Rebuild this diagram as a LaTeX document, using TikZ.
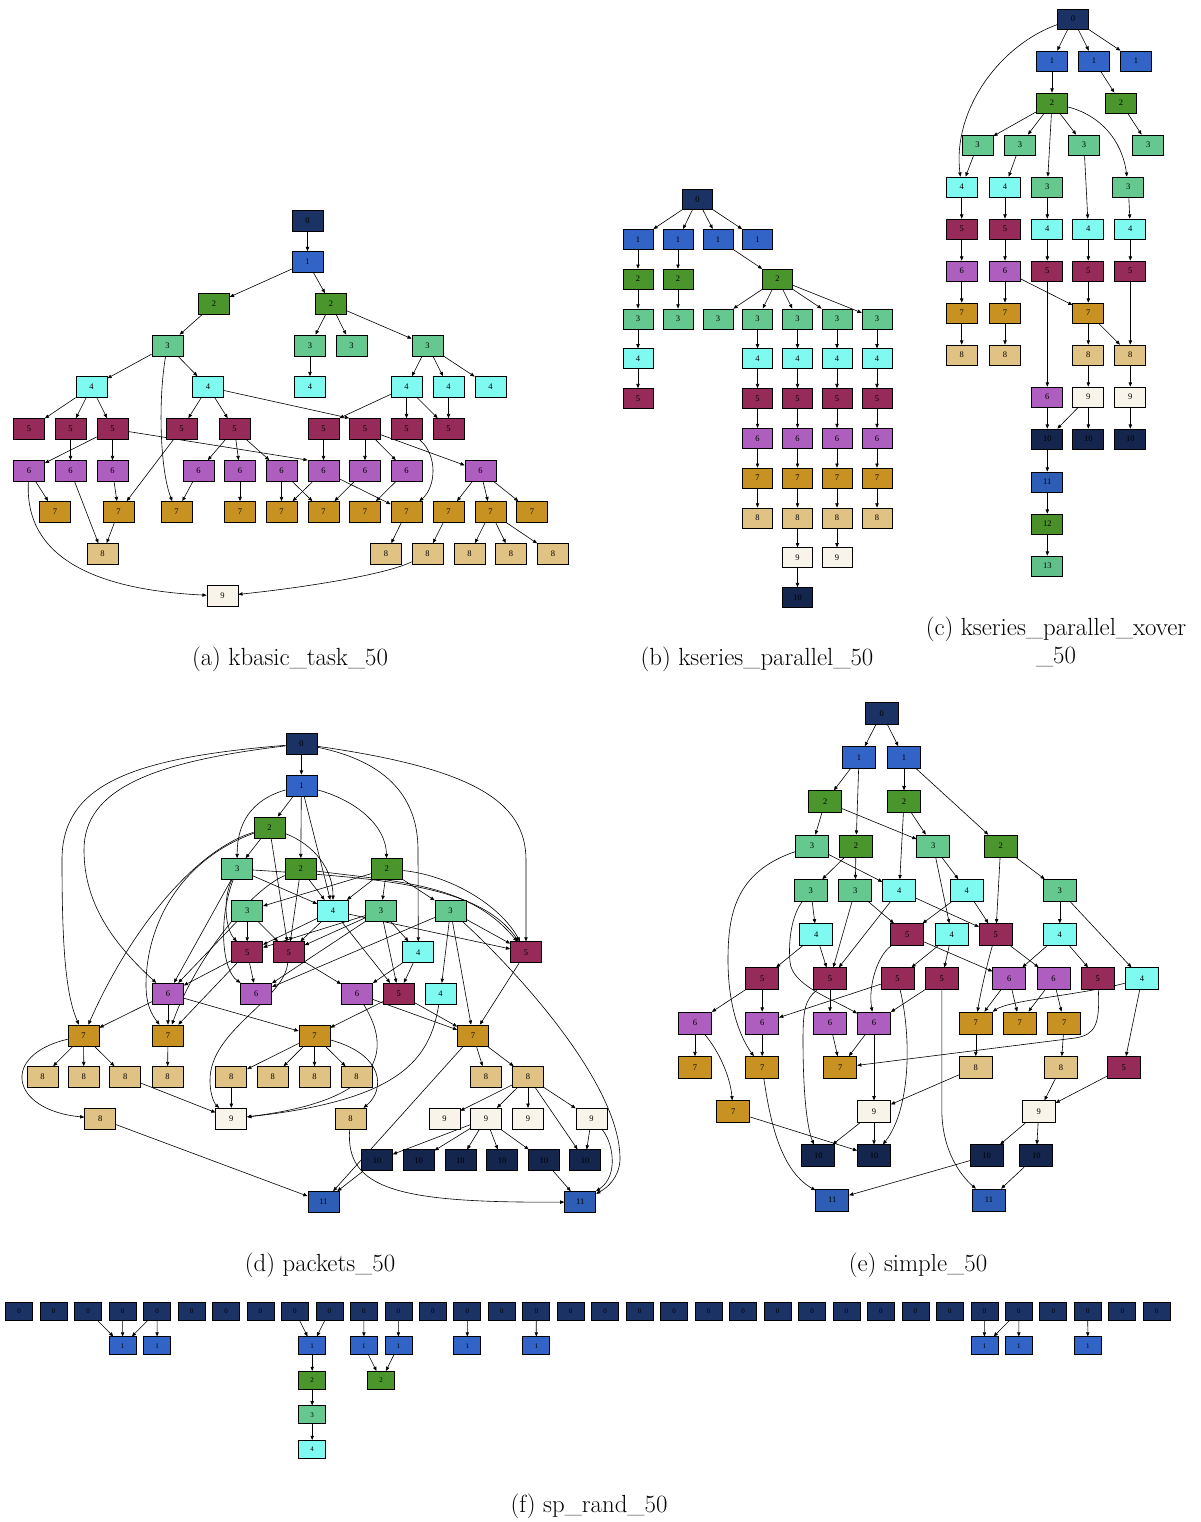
\documentclass[tikz,border=0pt]{standalone}
\usepackage{fontspec}
\newfontfamily\nodefont{Liberation Serif}
\usetikzlibrary{arrows.meta}
\pgfdeclarelayer{bg}
\pgfsetlayers{bg,main}
\definecolor{k0}{RGB}{27,50,100}
\definecolor{k1}{RGB}{50,100,200}
\definecolor{k2}{RGB}{74,150,44}
\definecolor{k3}{RGB}{100,200,143}
\definecolor{k4}{RGB}{127,250,240}
\definecolor{k5}{RGB}{150,42,88}
\definecolor{k6}{RGB}{174,94,190}
\definecolor{k7}{RGB}{200,146,34}
\definecolor{k8}{RGB}{224,194,132}
\definecolor{k9}{RGB}{248,244,234}
\definecolor{k10}{RGB}{20,38,78}
\definecolor{k11}{RGB}{46,93,182}
\definecolor{k12}{RGB}{74,144,40}
\definecolor{k13}{RGB}{96,192,138}
\tikzset{
 box/.style={draw=black, line width=0.7pt, inner sep=0pt, font=\nodefont\fontsize{8.5}{9}\selectfont},
 sa/.style={box, minimum width=31pt, minimum height=21pt},
 sb/.style={box, minimum width=30pt, minimum height=20pt},
 sc/.style={box, minimum width=31pt, minimum height=20pt},
 sd/.style={box, minimum width=31pt, minimum height=21pt},
 se/.style={box, minimum width=33pt, minimum height=22pt},
 sf/.style={box, minimum width=27pt, minimum height=18pt, font=\nodefont\fontsize{7}{8}\selectfont},
 c0/.style={fill=k0}, c1/.style={fill=k1}, c2/.style={fill=k2}, c3/.style={fill=k3},
 c4/.style={fill=k4}, c5/.style={fill=k5}, c6/.style={fill=k6}, c7/.style={fill=k7},
 c8/.style={fill=k8}, c9/.style={fill=k9}, c10/.style={fill=k10}, c11/.style={fill=k11},
 c12/.style={fill=k12}, c13/.style={fill=k13},
 arr/.style={-{Triangle[length=4.2pt,width=3.4pt]}, line width=0.6pt, black},
 captxt/.style={font=\fontsize{24.8}{29}\selectfont, inner sep=0pt}
}
\newcommand\mynode[5]{\node[#1,c#5] (#2) at (#3,#4) {#5};}
\begin{document}
\begin{tikzpicture}[x=1pt,y=-1pt]
\useasboundingbox (0,0) rectangle (1201,1522);
%% ---------------- (a) ----------------
\mynode{sa}{a0}{307.5}{220.5}{0}
\mynode{sa}{a1}{307.5}{262}{1}
\mynode{sa}{a2a}{214}{304}{2}
\mynode{sa}{a2b}{331}{304}{2}
\foreach \n/\x in {a3a/167.5,a3b/310,a3c/351.5,a3d/427.5} {\mynode{sa}{\n}{\x}{345.5}{3}}
\foreach \n/\x in {a4a/91.5,a4b/208,a4c/310,a4d/406.5,a4e/448.5,a4f/490.5} {\mynode{sa}{\n}{\x}{387}{4}}
\foreach \n/\x in {a5a/29,a5b/70.5,a5c/112.5,a5d/181.5,a5e/234.5,a5f/323.5,a5g/365,a5h/406.5,a5i/448.5} {\mynode{sa}{\n}{\x}{429}{5}}
\foreach \n/\x in {a6a/29,a6b/70.5,a6c/112.5,a6d/198.5,a6e/240,a6f/281.5,a6g/323.5,a6h/365,a6i/406.5,a6j/480.5} {\mynode{sa}{\n}{\x}{471}{6}}
\foreach \n/\x in {a7a/55,a7b/118.5,a7c/176.5,a7d/240,a7e/281.5,a7f/323.5,a7g/365,a7h/406.5,a7i/448.5,a7j/490.5,a7k/532} {\mynode{sa}{\n}{\x}{512}{7}}
\foreach \n/\x in {a8a/102.5,a8b/386,a8c/427.5,a8d/469.5,a8e/511,a8f/553} {\mynode{sa}{\n}{\x}{554}{8}}
\mynode{sa}{a9}{222.5}{596}{9}
%% ---------------- (b) ----------------
\mynode{sb}{b0}{697.5}{199.5}{0}
\foreach \n/\x in {b1a/638,b1b/678,b1c/718,b1d/757.5} {\mynode{sb}{\n}{\x}{239.3}{1}}
\foreach \n/\x in {b2a/638,b2b/678,b2c/777.5} {\mynode{sb}{\n}{\x}{279.1}{2}}
\foreach \n/\x in {b3a/638,b3b/678,b3c/718,b3d/757.5,b3e/797.5,b3f/837,b3g/877} {\mynode{sb}{\n}{\x}{318.9}{3}}
\foreach \n/\x in {b4a/638,b4d/757.5,b4e/797.5,b4f/837,b4g/877} {\mynode{sb}{\n}{\x}{358.7}{4}}
\foreach \n/\x in {b5a/638,b5d/757.5,b5e/797.5,b5f/837,b5g/877} {\mynode{sb}{\n}{\x}{398.5}{5}}
\foreach \n/\x in {b6d/757.5,b6e/797.5,b6f/837,b6g/877} {\mynode{sb}{\n}{\x}{438.3}{6}}
\foreach \n/\x in {b7d/757.5,b7e/797.5,b7f/837,b7g/877} {\mynode{sb}{\n}{\x}{478.1}{7}}
\foreach \n/\x in {b8d/757.5,b8e/797.5,b8f/837,b8g/877} {\mynode{sb}{\n}{\x}{517.9}{8}}
\foreach \n/\x in {b9e/797.5,b9f/837} {\mynode{sb}{\n}{\x}{557.7}{9}}
\mynode{sb}{b10e}{797.5}{597.5}{10}
%% ---------------- (c) ----------------
\mynode{sc}{c0}{1073}{19}{0}
\foreach \n/\x in {c1a/1052,c1b/1094,c1c/1136} {\mynode{sc}{\n}{\x}{61}{1}}
\foreach \n/\x in {c2a/1052,c2b/1121} {\mynode{sc}{\n}{\x}{103}{2}}
\foreach \n/\x in {c3a/977.5,c3b/1020,c3c/1084,c3d/1148.3} {\mynode{sc}{\n}{\x}{145}{3}}
\foreach \n/\x in {c4a/961.7,c4b/1005} {\mynode{sc}{\n}{\x}{187}{4}}
\foreach \n/\x in {c3e/1047.3,c3f/1128.3} {\mynode{sc}{\n}{\x}{187}{3}}
\foreach \n/\x in {c5a/961.7,c5b/1005} {\mynode{sc}{\n}{\x}{229}{5}}
\foreach \n/\x in {c4c/1047.3,c4d/1088.3,c4e/1130.3} {\mynode{sc}{\n}{\x}{229}{4}}
\foreach \n/\x in {c6a/961.7,c6b/1005} {\mynode{sc}{\n}{\x}{271}{6}}
\foreach \n/\x in {c5c/1047.3,c5d/1088.3,c5e/1130.3} {\mynode{sc}{\n}{\x}{271}{5}}
\foreach \n/\x in {c7a/961.7,c7b/1005,c7c/1088.3} {\mynode{sc}{\n}{\x}{313}{7}}
\foreach \n/\x in {c8a/961.7,c8b/1005,c8c/1088.3,c8d/1130.3} {\mynode{sc}{\n}{\x}{355}{8}}
\mynode{sc}{c6c}{1047.3}{397}{6}
\foreach \n/\x in {c9a/1088.3,c9b/1130.3} {\mynode{sc}{\n}{\x}{397}{9}}
\foreach \n/\x in {c10a/1047.3,c10b/1088.3,c10c/1130.3} {\mynode{sc}{\n}{\x}{439}{10}}
\mynode{sc}{c11}{1047.3}{482}{11}
\mynode{sc}{c12}{1047.3}{524}{12}
\mynode{sc}{c13}{1047.3}{566}{13}
%% ---------------- (d) ----------------
\mynode{sd}{d0}{301.4}{744}{0}
\mynode{sd}{d1}{301.4}{785.5}{1}
\mynode{sd}{d2a}{269.5}{827.5}{2}
\mynode{sd}{d3a}{237.2}{869}{3}
\mynode{sd}{d2b}{300.7}{869}{2}
\mynode{sd}{d2c}{386.7}{869}{2}
\mynode{sd}{d3b}{247.2}{910.7}{3}
\mynode{sd}{d4a}{333}{910.7}{4}
\mynode{sd}{d3c}{381}{910.7}{3}
\mynode{sd}{d3d}{450.5}{910.7}{3}
\mynode{sd}{d5a}{247.2}{952.3}{5}
\mynode{sd}{d5b}{288.8}{952.3}{5}
\mynode{sd}{d4b}{418.3}{952.3}{4}
\mynode{sd}{d5c}{526}{952.3}{5}
\mynode{sd}{d6a}{168}{993.7}{6}
\mynode{sd}{d6b}{256.2}{993.7}{6}
\mynode{sd}{d6c}{357}{993.7}{6}
\mynode{sd}{d5d}{398.7}{993.7}{5}
\mynode{sd}{d4c}{440.5}{993.7}{4}
\foreach \n/\x in {d7a/83.6,d7b/168,d7c/314.5,d7d/473} {\mynode{sd}{\n}{\x}{1035.5}{7}}
\foreach \n/\x in {d8a/42.4,d8b/83.8,d8c/125.3,d8d/167.5,d8e/231.3,d8f/272.7,d8g/314.5,d8h/356.4,d8i/486,d8j/528} {\mynode{sd}{\n}{\x}{1077}{8}}
\foreach \n/\x in {d8k/100.2,d8l/350.5} {\mynode{sd}{\n}{\x}{1118.7}{8}}
\foreach \n/\x in {d9a/231.3,d9b/444.4,d9c/486,d9d/528,d9e/591.5} {\mynode{sd}{\n}{\x}{1118.7}{9}}
\foreach \n/\x in {d10a/377,d10b/418.6,d10c/460.4,d10d/502,d10e/543.8,d10f/585} {\mynode{sd}{\n}{\x}{1160.3}{10}}
\foreach \n/\x in {d11a/323.4,d11b/580.2} {\mynode{sd}{\n}{\x}{1202}{11}}
%% ---------------- (e) ----------------
\mynode{se}{e0}{881.7}{713.3}{0}
\foreach \n/\x in {e1a/859,e1b/904} {\mynode{se}{\n}{\x}{757.5}{1}}
\foreach \n/\x in {e2a/825.2,e2b/904} {\mynode{se}{\n}{\x}{801.7}{2}}
\foreach \n/\x in {e3a/812,e3b/933.3} {\mynode{se}{\n}{\x}{846}{3}}
\foreach \n/\x in {e2c/856,e2d/1000.7} {\mynode{se}{\n}{\x}{846}{2}}
\foreach \n/\x in {e3c/810.8,e3d/855.2,e3e/1059.8} {\mynode{se}{\n}{\x}{890.5}{3}}
\foreach \n/\x in {e4a/899.2,e4b/966.8} {\mynode{se}{\n}{\x}{890.5}{4}}
\foreach \n/\x in {e4c/816.3,e4d/951.7,e4e/1059.8} {\mynode{se}{\n}{\x}{934.7}{4}}
\foreach \n/\x in {e5a/907.3,e5b/995.8} {\mynode{se}{\n}{\x}{934.7}{5}}
\foreach \n/\x in {e5c/762.2,e5d/830,e5e/897.5,e5f/941.8,e5g/1097.8} {\mynode{se}{\n}{\x}{978.7}{5}}
\foreach \n/\x in {e6a/1009.3,e6b/1053.5} {\mynode{se}{\n}{\x}{978.7}{6}}
\mynode{se}{e4f}{1142}{978.7}{4}
\foreach \n/\x in {e6c/695,e6d/762.2,e6e/830,e6f/874} {\mynode{se}{\n}{\x}{1023}{6}}
\foreach \n/\x in {e7a/975.8,e7b/1019.8,e7c/1064.2} {\mynode{se}{\n}{\x}{1023}{7}}
\foreach \n/\x in {e7d/695,e7e/762.2,e7f/840.3} {\mynode{se}{\n}{\x}{1067.5}{7}}
\foreach \n/\x in {e8a/975.8,e8b/1061} {\mynode{se}{\n}{\x}{1067.5}{8}}
\mynode{se}{e5h}{1123.7}{1067.5}{5}
\mynode{se}{e7g}{733.3}{1111.7}{7}
\foreach \n/\x in {e9a/874,e9b/1038.7} {\mynode{se}{\n}{\x}{1111.7}{9}}
\foreach \n/\x in {e10a/818.3,e10b/874,e10c/986.7,e10d/1036.3} {\mynode{se}{\n}{\x}{1155.8}{10}}
\foreach \n/\x in {e11a/832.3,e11b/989} {\mynode{se}{\n}{\x}{1200}{11}}
%% ---------------- (f) ----------------
\foreach \k in {0,...,33} {\node[sf,c0] (f0-\k) at ({19.2+34.47*\k},1311) {0};}
\foreach \n/\x in {f1a/122.6,f1b/157.1,f1c/312.2,f1d/363.9,f1e/398.4,f1f/467.3,f1g/536.3,f1h/984.4,f1i/1018.8,f1j/1087.8} {\node[sf,c1] (\n) at (\x,1345.8) {1};}
\node[sf,c2] (f2a) at (312.2,1380.3) {2};
\node[sf,c2] (f2b) at (381.2,1380.3) {2};
\node[sf,c3] (f3) at (312.2,1414.7) {3};
\node[sf,c4] (f4) at (312.2,1449.3) {4};
%% ---------------- captions ----------------
\node[captxt] (capa) at (290,659) {(a) kbasic\_task\_50};
\node[captxt] (capb) at (757,659) {(b) kseries\_parallel\_50};
\node[captxt] (capc1) at (1056,629) {(c) kseries\_parallel\_xover};
\node[captxt] (capc2) at (1056,657) {\_50};
\node[captxt] (capd) at (320,1265) {(d) packets\_50};
\node[captxt] (cape) at (918,1265) {(e) simple\_50};
\node[captxt] (capf) at (589,1506) {(f) sp\_rand\_50};
%% ---------------- edges ----------------
\begin{pgfonlayer}{bg}
% (a)
\foreach \s/\t in {a0/a1,a1/a2a,a1/a2b,a2a/a3a,a3a/a4a,a3a/a4b,a4a/a5a,a4a/a5b,a4a/a5c,a4b/a5d,a4b/a5e,a4d/a5h,a4d/a5i,a4e/a5i,a3d/a4d,a3d/a4e,a3d/a4f,a2b/a3b,a2b/a3c,a2b/a3d,a3b/a4c,a5b/a6b,a5c/a6a,a5c/a6c,a5d/a7b,a5e/a6d,a5e/a6e,a5e/a6f,a5f/a6g,a5g/a6h,a5g/a6i,a5g/a6j,a6a/a7a,a6b/a8a,a6c/a7b,a6d/a7c,a6e/a7d,a6f/a7e,a6f/a7f,a6g/a7e,a6g/a7h,a6h/a7f,a6i/a7g,a6j/a7i,a6j/a7j,a6j/a7k,a7b/a8a,a7h/a8b,a7i/a8c,a7j/a8d,a7j/a8e,a7j/a8f}
  {\draw[arr] (\s) -- (\t);}
\draw[arr] (a4b) -- (a5g.north west);
\draw[arr] (a4d) -- (a5f.north east);
\draw[arr] (a5c) -- (a6g.north west);
\draw[arr] (a3a) .. controls (158,400) and (160,470) .. (a7c);
\draw[arr] (a5h) .. controls (438,455) and (436,487) .. (a7h);
\draw[arr] (a6a) .. controls (24,560) and (100,590) .. (a9);
\draw[arr] (a8c) .. controls (385,575) and (300,588) .. (a9);
% (b)
\foreach \s/\t in {b0/b1a,b0/b1b,b0/b1c,b0/b1d,b1a/b2a,b2a/b3a,b3a/b4a,b4a/b5a,b1b/b2b,b2b/b3b,b1c/b2c,b2c/b3c,b2c/b3d,b2c/b3e,b2c/b3f,b2c/b3g,b8e/b9e,b9e/b10e,b8f/b9f}
  {\draw[arr] (\s) -- (\t);}
\foreach \c in {d,e,f,g} {
  \draw[arr] (b3\c) -- (b4\c); \draw[arr] (b4\c) -- (b5\c); \draw[arr] (b5\c) -- (b6\c);
  \draw[arr] (b6\c) -- (b7\c); \draw[arr] (b7\c) -- (b8\c);}
% (c)
\foreach \s/\t in {c0/c1a,c0/c1b,c0/c1c,c1a/c2a,c1b/c2b,c2a/c3a,c2a/c3b,c2a/c3e,c2a/c3c,c2b/c3d,c3a/c4a,c3b/c4b,c3e/c4c,c3c/c4d,c3f/c4e,c4a/c5a,c5a/c6a,c6a/c7a,c7a/c8a,c4b/c5b,c5b/c6b,c6b/c7b,c7b/c8b,c6b/c7c,c4c/c5c,c5c/c6c,c6c/c10a,c10a/c11,c11/c12,c12/c13,c4d/c5d,c5d/c7c,c7c/c8c,c8c/c9a,c9a/c10b,c9a/c10a,c7c/c8d,c4e/c5e,c5e/c8d,c8d/c9b,c9b/c10c}
  {\draw[arr] (\s) -- (\t);}
\draw[arr] (c0) .. controls (1000,45) and (952,110) .. (c4a);
\draw[arr] (c2a) .. controls (1100,115) and (1122,140) .. (c3f);
% (d)
\foreach \s/\t in {d0/d1,d1/d2a,d1/d2b,d1/d4a,d2a/d3a,d2a/d5b,d2b/d4a,d2b/d5b,d2c/d3b,d2c/d4a,d2c/d3c,d2c/d3d,d3a/d4a,d3a/d6a,d3b/d5a,d3b/d5b,d3b/d6a,d4a/d5a,d4a/d5b,d4a/d5d,d4a/d5c,d3c/d5a,d3c/d5b,d3c/d5d,d3c/d4b,d3d/d5c,d3d/d6b,d3d/d4c,d3d/d7d,d4b/d6c,d4b/d5d,d5a/d6a,d5a/d6b,d5a/d7b,d5b/d6c,d5c/d7d,d6a/d7a,d6a/d7b,d6a/d7c,d6c/d7d,d5d/d7c,d5d/d7d,d7a/d8a,d7a/d8b,d7a/d8c,d7b/d8d,d7c/d8e,d7c/d8f,d7c/d8g,d7c/d8h,d7d/d8i,d7d/d8j,d7d/d11a,d8c/d9a,d8e/d9a,d8j/d9b,d8j/d9c,d8j/d9d,d8j/d9e,d8j/d10f,d8k/d11a,d9c/d10a,d9c/d10b,d9c/d10c,d9c/d10d,d9c/d10e,d9e/d10f,d10a/d11a,d10e/d11b}
  {\draw[arr] (\s) -- (\t);}
\draw[arr] (d3c.south west) -- (d6b);
\draw[arr] (d0) .. controls (130,758) and (62,785) .. (62,860) .. controls (62,950) and (66,995) .. (d7a);
\draw[arr] (d0) .. controls (150,762) and (84,790) .. (84,850) .. controls (84,905) and (115,945) .. (d6a);
\draw[arr] (d0) .. controls (390,762) and (418,800) .. (418,850) -- (d4b);
\draw[arr] (d0) .. controls (470,768) and (526,800) .. (526,860) -- (d5c);
\draw[arr] (d1) .. controls (250,800) and (237,825) .. (d3a);
\draw[arr] (d1) .. controls (355,800) and (386,825) .. (d2c);
\draw[arr] (d2a) .. controls (315,845) and (333,870) .. (d4a);
\draw[arr] (d2a) .. controls (195,850) and (130,930) .. (d7a);
\draw[arr] (d2a) .. controls (180,860) and (146,925) .. (146,985) .. controls (146,1005) and (152,1015) .. (d7b);
\draw[arr] (d2b) .. controls (250,890) and (195,960) .. (d7b);
\draw[arr] (d2c) .. controls (450,875) and (500,905) .. (d5c);
\draw[arr] (d3a) .. controls (380,878) and (480,885) .. (d5c);
\draw[arr] (d2b) .. controls (400,882) and (470,884) .. (d5c);
\draw[arr] (d3a) .. controls (222,900) and (226,930) .. (d5a);
\draw[arr] (d3a) .. controls (218,920) and (222,970) .. (d6b);
\draw[arr] (d3d) .. controls (505,960) and (621,1080) .. (620,1160) .. controls (619,1178) and (607,1188) .. (d11b);
\draw[arr] (d5b) .. controls (284,1000) and (210,1030) .. (210,1080) .. controls (210,1098) and (216,1105) .. (d9a);
\draw[arr] (d6c) .. controls (392,1050) and (385,1100) .. (d9a);
\draw[arr] (d4c) .. controls (430,1060) and (400,1100) .. (d9a);
\draw[arr] (d7a) .. controls (0,1055) and (10,1110) .. (d8k);
\draw[arr] (d7c) .. controls (385,1055) and (385,1090) .. (d8l);
\draw[arr] (d8l) .. controls (345,1190) and (400,1203) .. (d11b);
\draw[arr] (d9e) .. controls (612,1140) and (620,1175) .. (d11b);
% (e)
\foreach \s/\t in {e0/e1a,e0/e1b,e1a/e2a,e1a/e2c,e1b/e2b,e1b/e2d,e2a/e3a,e2a/e3b,e2b/e3b,e2b/e4a,e3a/e4a,e2c/e3c,e2c/e3d,e3b/e4b,e3b/e4d,e2d/e5b,e2d/e3e,e3c/e4c,e3d/e5a,e3d/e5d,e4a/e5b,e4a/e5d,e4b/e5a,e4b/e5b,e3e/e4e,e3e/e4f,e4c/e5c,e4c/e5d,e5a/e6a,e4d/e5e,e4d/e5f,e5b/e6b,e4e/e6a,e4e/e5g,e5c/e6c,e5c/e6d,e5d/e6e,e5e/e6d,e5f/e6f,e6a/e7a,e6a/e7b,e6b/e7b,e6b/e7c,e4f/e5h,e6c/e7d,e6d/e7e,e6e/e7f,e6f/e7f,e6f/e9a,e7a/e8a,e7c/e8b,e8a/e9a,e8b/e9b,e5h/e9b,e7g/e10b,e9a/e10a,e9a/e10b,e9b/e10c,e9b/e10d,e10c/e11a,e10d/e11b}
  {\draw[arr] (\s) -- (\t);}
\draw[arr] (e3a) .. controls (735,872) and (728,915) .. (728,960) .. controls (728,1010) and (742,1040) .. (e7e);
\draw[arr] (e3c) .. controls (792,915) and (788,940) .. (790,962) .. controls (792,985) and (830,998) .. (e6f);
\draw[arr] (e5a) .. controls (878,955) and (868,985) .. (e6f);
\draw[arr] (e5b) .. controls (988,960) and (980,995) .. (e7a);
\draw[arr] (e5d) .. controls (805,1000) and (803,1010) .. (803,1040) .. controls (803,1100) and (808,1130) .. (e10a);
\draw[arr] (e5e) .. controls (912,1040) and (910,1110) .. (e10b);
\draw[arr] (e5f) -- (941.8,1110) .. controls (942,1150) and (960,1175) .. (e11b);
\draw[arr] (e5g) .. controls (1100,1025) and (1095,1035) .. (1075,1038) -- (e7f);
\draw[arr] (e4f) .. controls (1080,995) and (1010,1000) .. (e7a);
\draw[arr] (e6c) .. controls (718,1050) and (730,1075) .. (e7g);
\draw[arr] (e7e) .. controls (770,1120) and (780,1170) .. (e11a);
% (f)
\foreach \s/\t in {f0-2/f1a,f0-3/f1a,f0-4/f1a,f0-4/f1b,f0-8/f1c,f0-9/f1c,f0-10/f1d,f0-11/f1e,f0-13/f1f,f0-15/f1g,f0-28/f1h,f0-29/f1h,f0-29/f1i,f0-31/f1j,f1c/f2a,f2a/f3,f3/f4,f1d/f2b,f1e/f2b}
  {\draw[arr] (\s) -- (\t);}
\end{pgfonlayer}
\end{tikzpicture}
\end{document}
